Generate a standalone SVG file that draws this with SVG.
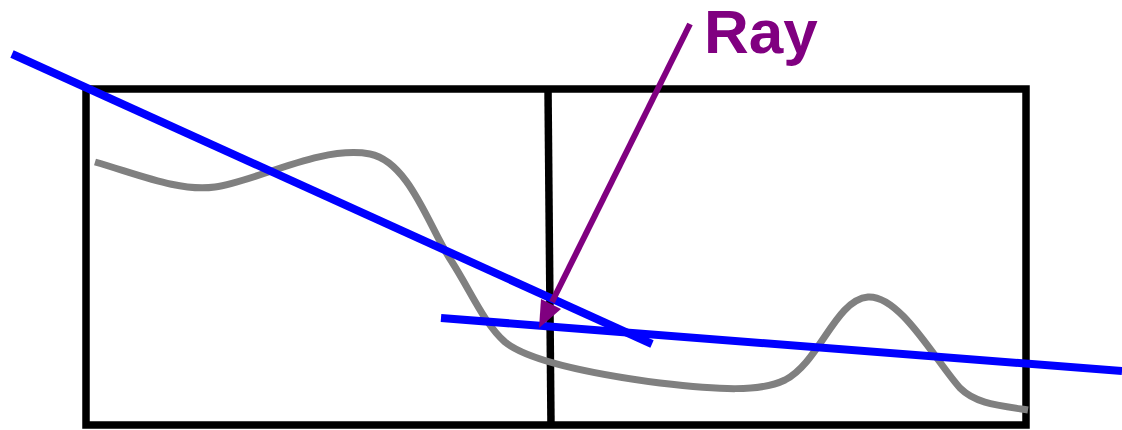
<svg xmlns="http://www.w3.org/2000/svg" width="1122" height="430" viewBox="0 0 1122 430">
<style>
.box{fill:none;stroke:#000;stroke-width:7.5}
.ray{fill:none;stroke:#0000ff;stroke-width:8}
.curve{fill:none;stroke:#808080;stroke-width:7}
.lbl{font-family:"Liberation Sans",Arial,sans-serif;font-weight:bold;font-size:62px;fill:#800080}
</style>
<rect width="1122" height="430" fill="#fff"/>
<g id="cells">
<rect class="box" x="86" y="89" width="940" height="336"/>
<line class="box" x1="548" y1="89" x2="551" y2="425"/>
</g>
<g id="terrain">
<path class="curve" d="M95,162 C140,175 180,192 215,187 C255,182 320,145 370,154 C410,162 430,230 452,262 C470,290 485,325 505,342 C530,362 600,375 660,383 C720,390 760,392 785,380 C820,362 835,300 868,297 C900,295 935,360 960,388 C975,403 995,405 1028,410"/>
</g>
<g id="connectors">
<line class="ray" x1="12" y1="54" x2="652" y2="344"/>
<line class="ray" x1="441" y1="318" x2="1122" y2="371"/>
<line x1="690" y1="24" x2="552" y2="302" stroke="#800080" stroke-width="6"/>
<polygon points="539,328 541,299 561,309" fill="#800080"/>
</g>
<g id="label">
<text class="lbl" x="704" y="53">Ray</text>
</g>
</svg>
